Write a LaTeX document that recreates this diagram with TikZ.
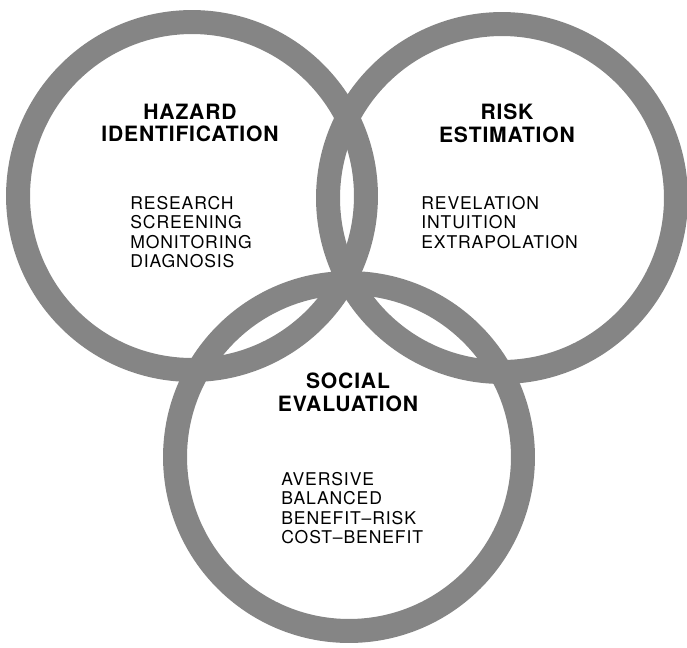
\documentclass[tikz,border=0pt]{standalone}
\usepackage{fontspec}
\setmainfont{TeX Gyre Heros}
\newfontfamily\ringheadfont[LetterSpace=4]{TeX Gyre Heros}
\newfontfamily\ringlistfont[LetterSpace=5]{TeX Gyre Heros}
\usepackage{xcolor}
\usepackage{tikz}

\definecolor{ringgray}{gray}{0.52}

\tikzset{
	ring/.style={circle,draw=ringgray,line width=0.48cm,minimum size=6.96cm,inner sep=0pt},
	heading/.style={align=center,font=\ringheadfont\bfseries\fontsize{12}{13}\selectfont},
	items/.style={align=left,font=\ringlistfont\fontsize{10}{11}\selectfont,anchor=north west,inner sep=0pt}
}

\begin{document}
\begin{tikzpicture}[x=0.02cm,y=-0.02cm]
	\useasboundingbox (0,0) rectangle (687,647);
	
	% the three rings
	\node[ring] (hazring) at (192,196) {};
	\node[ring] (riskring) at (502,198) {};
	\node[ring] (socring) at (349,457) {};
	
	\node[heading] (hazhead) at (190,123) {HAZARD\\IDENTIFICATION};
	\node[items] (hazlist) at (130,196) {RESEARCH\\SCREENING\\MONITORING\\DIAGNOSIS};
	
	\node[heading] (riskhead) at (507,123) {RISK\\ESTIMATION};
	\node[items] (risklist) at (421,196) {REVELATION\\INTUITION\\EXTRAPOLATION};
	
	\node[heading] (sochead) at (348,392) {SOCIAL\\EVALUATION};
	\node[items] (soclist) at (281,472) {AVERSIVE\\BALANCED\\BENEFIT\textendash RISK\\COST\textendash BENEFIT};
\end{tikzpicture}
\end{document}
